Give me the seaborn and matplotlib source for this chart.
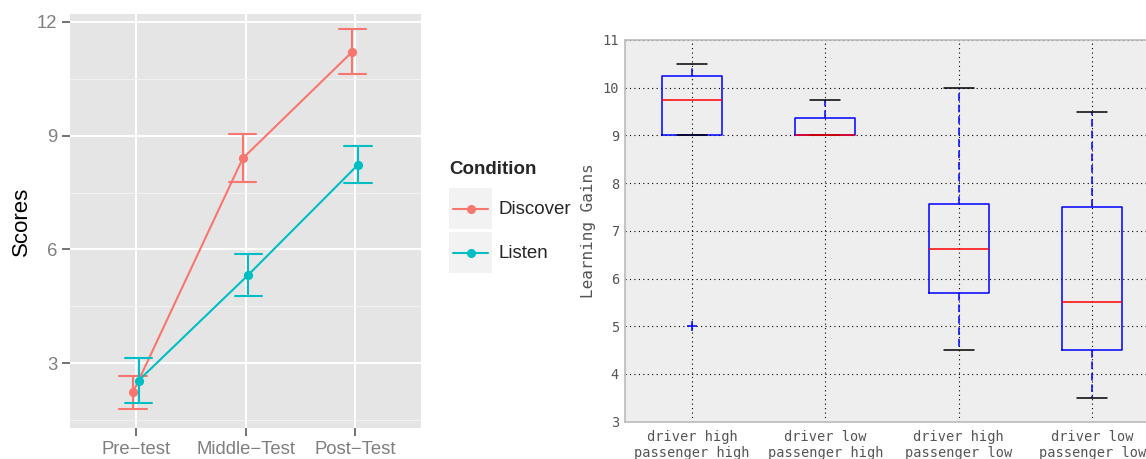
import pandas as pd
import matplotlib
matplotlib.use("Agg")
import matplotlib.pyplot as plt
from matplotlib.lines import Line2D
from matplotlib.patches import Rectangle
import seaborn as sns

# Left panel data: means and error bar limits
tests = ["Pre\u2212test", "Middle\u2212Test", "Post\u2212Test"]
conditions = ["Discover", "Listen"]
discover_mean = [2.24, 8.40, 11.21]
discover_low = [1.81, 7.77, 10.63]
discover_high = [2.68, 9.03, 11.80]
listen_mean = [2.55, 5.33, 8.23]
listen_low = [1.96, 4.77, 7.74]
listen_high = [3.15, 5.89, 8.73]

# Right panel data: box statistics
box_labels = ["driver high\npassenger high", "driver low\npassenger high",
              "driver high\npassenger low", "driver low\npassenger low"]
box_med = [9.75, 9.0, 6.63, 5.5]
box_q1 = [9.0, 9.0, 5.69, 4.5]
box_q3 = [10.25, 9.375, 7.57, 7.5]
box_lo = [9.0, 9.0, 4.5, 3.5]
box_hi = [10.5, 9.75, 10.0, 9.5]
box_fliers = [[5.0], [], [], []]

palette = {"Discover": "#F8766D", "Listen": "#00BFC4"}

# long table: low / mean / high per group so median + full interval gives the bars
rows = []
for cond, mean, low, high in [("Discover", discover_mean, discover_low, discover_high),
                              ("Listen", listen_mean, listen_low, listen_high)]:
    for t, m, lo, hi in zip(tests, mean, low, high):
        for v in (lo, m, hi):
            rows.append({"test": t, "condition": cond, "score": v})
df = pd.DataFrame(rows)

sns.set_style("white")
plt.rcParams["font.family"] = ["Liberation Sans", "DejaVu Sans"]

W, H = 1146, 459
fig = plt.figure(figsize=(W / 100, H / 100), dpi=100)

# ---- left panel (ggplot look) ----
ax = fig.add_axes([70 / W, 1 - 428 / H, 351 / W, 414 / H])
ax.set_facecolor("#E5E5E5")
sns.pointplot(data=df, x="test", y="score", hue="condition", order=tests,
              hue_order=conditions, palette=palette, estimator="median",
              errorbar=("pi", 100), capsize=0.25, dodge=True, markers="o",
              markersize=5.5, linewidth=1.5, err_kws={"linewidth": 1.5},
              legend=False, ax=ax)
ax.set_xlim(-0.6, 2.6)
ax.set_ylim(1.3, 12.2)
ax.set_yticks([3, 6, 9, 12])
ax.set_yticks([1.5, 4.5, 7.5, 10.5], minor=True)
ax.grid(True, which="major", color="white", linewidth=1.4)
ax.grid(True, which="minor", axis="y", color="#F2F2F2", linewidth=0.8)
ax.set_axisbelow(True)
for s in ax.spines.values():
    s.set_visible(False)
ax.tick_params(axis="both", which="major", length=6, width=1.1, color="#4D4D4D",
               labelcolor="#7F7F7F", labelsize=13.3, pad=3, left=True, bottom=True)
ax.tick_params(axis="y", which="minor", length=0)
ax.set_xlabel("")
ax.set_ylabel("Scores", fontsize=16, color="black", labelpad=4)

# legend drawn by hand in figure pixels (ggplot style key boxes)
fig.text(449 / W, 1 - 170 / H, "Condition", fontsize=13.5, fontweight="bold",
         va="center", ha="left")
for i, cond in enumerate(conditions):
    top = 188 + i * 44
    fig.patches.append(Rectangle((449 / W, 1 - (top + 41) / H), 43 / W, 41 / H,
                                 transform=fig.transFigure, facecolor="#F2F2F2",
                                 edgecolor="none"))
    yc = 1 - (top + 21) / H
    fig.lines.append(Line2D([453 / W, 488 / W], [yc, yc], transform=fig.transFigure,
                            color=palette[cond], linewidth=1.5))
    fig.lines.append(Line2D([470.5 / W], [yc], transform=fig.transFigure,
                            color=palette[cond], marker="o", markersize=5.5))
    fig.text(498 / W, yc, cond, fontsize=13.5, va="center", ha="left")

# ---- right panel (classic matplotlib boxplot) ----
ax2 = fig.add_axes([625.3 / W, 1 - 421.7 / H, 533.7 / W, 381.7 / H])
ax2.set_facecolor("#EEEEEE")
stats = []
for lab, med, q1, q3, lo, hi, fl in zip(box_labels, box_med, box_q1, box_q3,
                                        box_lo, box_hi, box_fliers):
    stats.append({"label": lab, "med": med, "q1": q1, "q3": q3,
                  "whislo": lo, "whishi": hi, "fliers": fl})
ax2.bxp(stats, widths=0.45,
        boxprops={"color": "blue", "linewidth": 1.1},
        medianprops={"color": "red", "linewidth": 1.1},
        whiskerprops={"color": "blue", "linestyle": (0, (5, 2.5)), "linewidth": 1.1},
        capprops={"color": "black", "linewidth": 1.1},
        flierprops={"marker": "+", "markeredgecolor": "blue", "markersize": 7,
                    "markeredgewidth": 1.1, "linestyle": "none"})
ax2.set_xlim(0.5, 4.5)
ax2.set_ylim(3, 11)
ax2.set_yticks(range(3, 12))
ax2.grid(True, color="black", linestyle=(0, (1, 3)), linewidth=0.8)
ax2.set_axisbelow(True)
for s in ax2.spines.values():
    s.set_color("#BBBBBB")
    s.set_linewidth(1.2)
mono = ["DejaVu Sans Mono"]
ax2.tick_params(axis="both", length=0, labelcolor="#555555", labelsize=9.8)
ax2.tick_params(axis="y", pad=4.5)
ax2.tick_params(axis="x", pad=6)
for lbl in ax2.get_xticklabels() + ax2.get_yticklabels():
    lbl.set_family(mono)
ax2.set_ylabel("Learning Gains", fontsize=11.5, color="#555555", family=mono,
               labelpad=5)

fig.savefig("out.png", dpi=100, facecolor="white")
